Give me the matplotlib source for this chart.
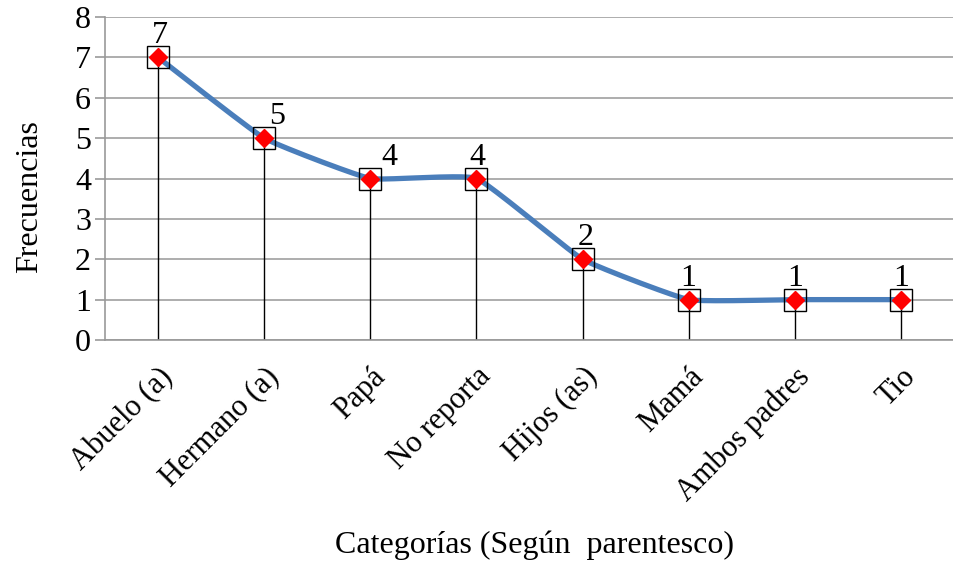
import numpy as np
import matplotlib
matplotlib.use("Agg")
import matplotlib.pyplot as plt

categories = ["Abuelo (a)", "Hermano (a)", "Papá", "No reporta", "Hijos (as)", "Mamá", "Ambos padres", "Tio"]
values = [7, 5, 4, 4, 2, 1, 1, 1]
yticks = [0, 1, 2, 3, 4, 5, 6, 7, 8]
# horizontal nudges of the value labels (points), style only
label_nudge = [1, 9, 14, 1, 2, 0, 0, 0]

plt.rcParams['font.family'] = ['Liberation Serif', 'DejaVu Serif']

fig = plt.figure(figsize=(9.54, 5.62), dpi=100)
ax = fig.add_axes([105/954, 1 - 340/562, 1 - 105/954, (340 - 17)/562])

x = np.arange(len(values), dtype=float)
y = np.array(values, dtype=float)

# smoothed line: parametric cubic Bezier through the data points with short
# control arms (a softly rounded polyline, like a spreadsheet smoothed line)
def smooth(xp, yp, k=0.06, n=40):
    P = np.column_stack([xp, yp])
    Q = np.vstack([P[0], P, P[-1]])
    out = []
    t = np.linspace(0, 1, n)[:, None]
    for i in range(len(P) - 1):
        p0 = P[i]
        p3 = P[i+1]
        c1 = p0 + k * (Q[i+2] - Q[i])
        c2 = p3 - k * (Q[i+3] - Q[i+1])
        seg = ((1-t)**3)*p0 + 3*((1-t)**2)*t*c1 + 3*(1-t)*(t**2)*c2 + (t**3)*p3
        out.append(seg)
    S = np.vstack(out)
    return S[:, 0], S[:, 1]

sx, sy = smooth(x, y)
ax.vlines(x, 0, y, color='black', lw=1.0, zorder=2)
ax.plot(sx, sy, color='#4A7EBB', lw=3.8, solid_capstyle='round', zorder=3)
ax.plot(x, y, linestyle='none', marker='s', ms=15.5, mfc='none', mec='black', mew=1.0, zorder=4)
ax.plot(x, y, linestyle='none', marker='D', ms=9.5, mfc='#FF0000', mec='#FF0000', zorder=5)

for xi, yi, nd in zip(x, y, label_nudge):
    ax.annotate(f"{int(yi)}", (xi, yi), xytext=(nd, 5), textcoords='offset points',
                fontsize=23, ha='center', va='bottom', zorder=6)

ax.set_xlim(-0.5, 7.5)
ax.set_ylim(0, 8)
ax.set_yticks(yticks)
ax.set_yticklabels([str(t) for t in yticks], fontsize=23)
ax.set_xticks(x)
ax.set_xticklabels(categories, rotation=45, ha='right', rotation_mode='anchor', fontsize=22)
ax.tick_params(axis='x', length=0, pad=16)
ax.tick_params(axis='y', length=7, color='#999999', width=1.2, pad=3)
ax.grid(axis='y', color='#A0A0A0', lw=1.2, zorder=1)
ax.set_axisbelow(True)
for s in ['top', 'right']:
    ax.spines[s].set_visible(False)
ax.spines['left'].set_color('#999999')
ax.spines['left'].set_linewidth(1.2)
ax.spines['bottom'].set_color('#999999')
ax.spines['bottom'].set_linewidth(1.2)

fig.text(535/954, 1 - 545/562, "Categorías (Según  parentesco)", fontsize=23, ha='center', va='center')
fig.text(30/954, 1 - 197/562, "Frecuencias", fontsize=23, ha='center', va='center', rotation=90)

fig.savefig("out.png", dpi=100)
